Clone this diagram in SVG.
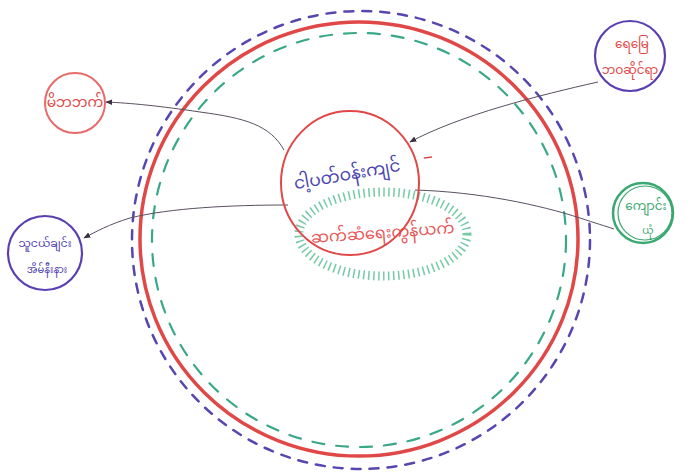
<svg xmlns="http://www.w3.org/2000/svg" width="691" height="472" viewBox="0 0 691 472">
<defs>
<style>
.t{font-family:"Noto Sans Myanmar","Padauk","Myanmar Text","Noto Sans",sans-serif;text-anchor:middle}
.con{fill:none;stroke:#5a5060;stroke-width:1}
</style>
<marker id="ah" viewBox="0 0 10 10" refX="9" refY="5" markerWidth="7" markerHeight="7" orient="auto-start-reverse">
<path d="M0,1 L10,5 L0,9 z" fill="#3a3040"/>
</marker>
</defs>
<rect width="691" height="472" fill="#ffffff"/>

<g id="outer-rings">
<circle cx="361" cy="240" r="229" fill="none" stroke="#5646b0" stroke-width="2.5" stroke-dasharray="9 9" stroke-linecap="round"/>
<ellipse cx="359" cy="239" rx="219" ry="217" fill="none" stroke="#e04848" stroke-width="3.5"/>
<circle cx="359" cy="240" r="207" fill="none" stroke="#3aa887" stroke-width="2.2" stroke-dasharray="12 12" stroke-linecap="round"/>
</g>

<g id="connectors">
<path class="con" d="M284,150 C270,125 245,118 200,112 C160,106 130,103 106,102" marker-end="url(#ah)"/>
<path class="con" d="M598,82 C540,95 460,115 410,142" marker-end="url(#ah)"/>
<path class="con" d="M288,205 C230,205 170,208 130,218 C110,224 95,232 84,238" marker-end="url(#ah)"/>
<path class="con" d="M415,190 C480,192 540,205 580,218 C595,223 605,226 614,229"/>
</g>

<g id="node-green-ellipse">
<ellipse cx="383" cy="234" rx="84" ry="42" fill="none" stroke="#5cc098" stroke-width="9" stroke-dasharray="1.5 3.5" opacity="0.85"/>
<text class="t" x="383" y="238" font-size="16" fill="#e85858" transform="rotate(-4 383 238)">ဆက်ဆံရေးကွန်ယက်</text>
</g>

<g id="node-center">
<ellipse cx="350" cy="183" rx="69" ry="72" fill="none" stroke="#e04848" stroke-width="2"/>
<text class="t" x="348" y="180" font-size="17" fill="#4a44b0" transform="rotate(-10 348 180)">ငါ့ပတ်ဝန်းကျင်</text>
<path d="M424,158 L432,157" stroke="#e04848" stroke-width="1.5"/>
</g>

<g id="node-topleft">
<circle cx="75" cy="103" r="30" fill="none" stroke="#e86a6a" stroke-width="2"/>
<text class="t" x="75" y="107" font-size="14" fill="#e04848">မိဘဘက်</text>
</g>

<g id="node-topright">
<circle cx="630" cy="56" r="35" fill="none" stroke="#5a3fb0" stroke-width="2.2"/>
<text class="t" x="632" y="48" font-size="12" fill="#e04848">ရေမြေ</text>
<text class="t" x="630" y="74" font-size="12" fill="#e04848">ဘဝဆိုင်ရာ</text>
</g>

<g id="node-right">
<circle cx="643" cy="213" r="30" fill="none" stroke="#3aa870" stroke-width="2.5"/>
<circle cx="645" cy="213" r="27" fill="none" stroke="#3aa870" stroke-width="1.2"/>
<text class="t" x="646" y="210" font-size="12" fill="#3aa870">ကျောင်း</text>
<text class="t" x="648" y="234" font-size="10" fill="#3aa870">ယုံ</text>
</g>

<g id="node-left">
<circle cx="45" cy="253" r="37" fill="none" stroke="#5a3fb0" stroke-width="2.2"/>
<text class="t" x="45" y="247" font-size="11" fill="#5040b0">သူငယ်ချင်း</text>
<text class="t" x="47" y="273" font-size="10" fill="#5040b0">အိမ်နီးနား</text>
</g>
</svg>
